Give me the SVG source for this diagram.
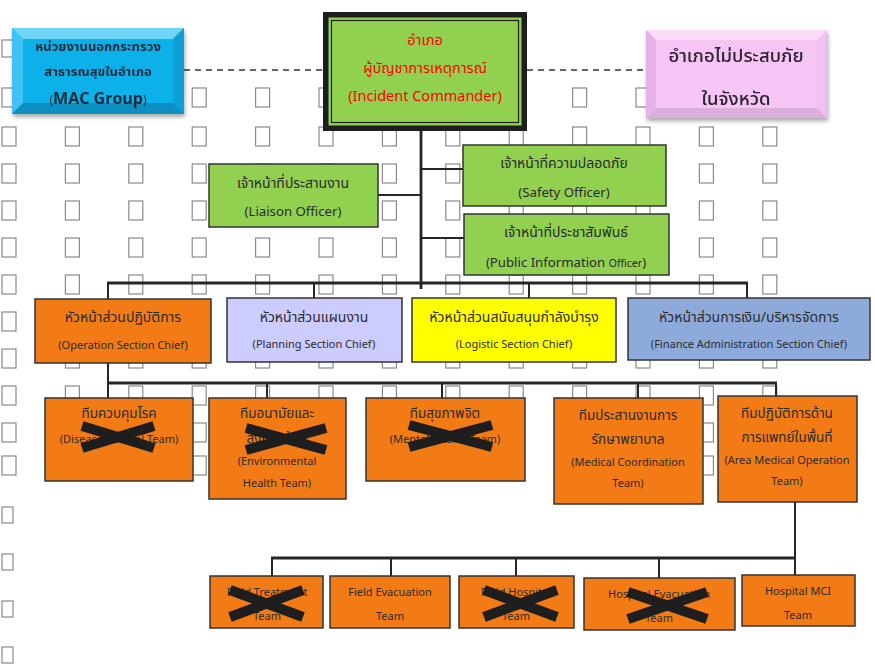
<svg xmlns="http://www.w3.org/2000/svg" xmlns:xlink="http://www.w3.org/1999/xlink" width="875" height="667" viewBox="0 0 875 667">
  <defs>
    <style>
      .sq { fill: #ffffff; stroke: #8a8a8a; stroke-width: 1.2; }
      .box { stroke: #333333; stroke-width: 1.5; }
      .green { fill: #92d050; }
      .orange { fill: #f37b16; }
      .ln { stroke: #262626; stroke-width: 2; fill: none; }
      .lnb { stroke: #262626; stroke-width: 2.8; fill: none; }
      .dash { stroke: #333333; stroke-width: 1.6; stroke-dasharray: 6 5; fill: none; }
      .x { stroke: #1e1e1e; stroke-width: 10; stroke-linecap: butt; }
      text { font-family: Tahoma, "Noto Sans Thai", "Leelawadee UI", "DejaVu Sans", sans-serif; text-anchor: middle; fill: #2b2b2b; }
      .th { font-size: 14px; }
      .tth { font-size: 13.5px; }
      .en { font-size: 13.2px; }
      .sen { font-size: 11px; }
      .ten { font-size: 11px; }
      .red { fill: #ff0000; font-size: 14.5px; }
    </style>
    <g id="row">
      <rect class="sq" x="2" y="0" width="14" height="19"/>
      <rect class="sq" x="65.4" y="0" width="14" height="19"/>
      <rect class="sq" x="128.8" y="0" width="14" height="19"/>
      <rect class="sq" x="192.2" y="0" width="14" height="19"/>
      <rect class="sq" x="255.6" y="0" width="14" height="19"/>
      <rect class="sq" x="319" y="0" width="14" height="19"/>
      <rect class="sq" x="382.4" y="0" width="14" height="19"/>
      <rect class="sq" x="445.8" y="0" width="14" height="19"/>
      <rect class="sq" x="509.2" y="0" width="14" height="19"/>
      <rect class="sq" x="572.6" y="0" width="14" height="19"/>
      <rect class="sq" x="636" y="0" width="14" height="19"/>
      <rect class="sq" x="699.4" y="0" width="14" height="19"/>
      <rect class="sq" x="762.8" y="0" width="14" height="19"/>
    </g>
    <filter id="shadow" x="-10%" y="-10%" width="125%" height="135%">
      <feGaussianBlur in="SourceAlpha" stdDeviation="2"/>
      <feOffset dx="1" dy="3" result="b"/>
      <feComponentTransfer><feFuncA type="linear" slope="0.35"/></feComponentTransfer>
      <feMerge><feMergeNode/><feMergeNode in="SourceGraphic"/></feMerge>
    </filter>
  </defs>

  <rect width="875" height="667" fill="#ffffff"/>

  <!-- background grid of placeholder boxes -->
  <g id="grid">
    <rect class="sq" x="2" y="40" width="11" height="17"/>
    <use xlink:href="#row" y="88"/>
    <use xlink:href="#row" y="127"/>
    <use xlink:href="#row" y="164"/>
    <use xlink:href="#row" y="201"/>
    <use xlink:href="#row" y="238"/>
    <use xlink:href="#row" y="275"/>
    <use xlink:href="#row" y="312"/>
    <use xlink:href="#row" y="349"/>
    <use xlink:href="#row" y="386"/>
    <use xlink:href="#row" y="423"/>
    <use xlink:href="#row" y="456"/>
    <rect class="sq" x="2" y="507" width="11" height="16"/>
    <rect class="sq" x="2" y="554" width="11" height="16"/>
    <rect class="sq" x="2" y="601" width="11" height="16"/>
    <rect class="sq" x="2" y="647" width="11" height="16"/>
  </g>

  <!-- connectors -->
  <g id="connectors">
    <line class="dash" x1="184" y1="70" x2="323" y2="70"/>
    <line class="dash" x1="527" y1="70" x2="646" y2="70"/>
    <line class="lnb" x1="421" y1="131" x2="421" y2="289"/>
    <line class="ln" x1="378" y1="195" x2="421" y2="195"/>
    <line class="ln" x1="421" y1="169" x2="463" y2="169"/>
    <line class="ln" x1="421" y1="238" x2="464" y2="238"/>
    <line class="lnb" x1="107" y1="283" x2="748" y2="283"/>
    <line class="ln" x1="108" y1="283" x2="108" y2="299"/>
    <line class="ln" x1="314" y1="283" x2="314" y2="298"/>
    <line class="ln" x1="529" y1="283" x2="529" y2="298"/>
    <line class="ln" x1="747" y1="283" x2="747" y2="298"/>
    <line class="ln" x1="108" y1="363" x2="108" y2="398"/>
    <line class="lnb" x1="107" y1="383" x2="777" y2="383"/>
    <line class="ln" x1="267" y1="383" x2="267" y2="398"/>
    <line class="ln" x1="442" y1="383" x2="442" y2="398"/>
    <line class="ln" x1="638" y1="383" x2="638" y2="398"/>
    <line class="ln" x1="776" y1="383" x2="776" y2="396"/>
    <line class="ln" x1="795" y1="502" x2="795" y2="575"/>
    <line class="lnb" x1="271" y1="558" x2="796" y2="558"/>
    <line class="ln" x1="272" y1="558" x2="272" y2="576"/>
    <line class="ln" x1="391" y1="558" x2="391" y2="576"/>
    <line class="ln" x1="516" y1="558" x2="516" y2="576"/>
    <line class="ln" x1="659" y1="558" x2="659" y2="578"/>
  </g>

  <!-- outside agencies -->
  <g id="mac-group" filter="url(#shadow)">
    <rect x="12" y="28" width="172" height="86" fill="#0fb1ea"/>
    <polygon points="12,28 184,28 173,39 23,39" fill="#6fd6f7"/>
    <polygon points="12,28 23,39 23,103 12,114" fill="#3fc3f2"/>
    <polygon points="184,28 184,114 173,103 173,39" fill="#0a9fd6"/>
    <polygon points="12,114 23,103 173,103 184,114" fill="#078fc2"/>
    <text class="th" x="98" y="51" style="font-weight:bold;fill:#1e2b3a;font-size:13px">หน่วยงานนอกกระทรวง</text>
    <text class="th" x="98" y="76" style="font-weight:bold;fill:#1e2b3a;font-size:13px">สาธารณสุขในอำเภอ</text>
    <text x="98" y="104" style="fill:#1e2b3a;font-size:12px">(<tspan style="font-size:16px;font-weight:bold;font-family:'Open Sans','Liberation Sans',sans-serif">MAC Group</tspan>)</text>
  </g>

  <g id="unaffected-district" filter="url(#shadow)">
    <rect x="646" y="30" width="181" height="88" fill="#f6c5f5"/>
    <polygon points="646,30 827,30 817,40 656,40" fill="#fadcf9"/>
    <polygon points="646,30 656,40 656,108 646,118" fill="#e7b0e6"/>
    <polygon points="827,30 827,118 817,108 817,40" fill="#f0c0ef"/>
    <polygon points="646,118 656,108 817,108 827,118" fill="#dcaedb"/>
    <text x="736" y="62" style="font-size:18.5px;font-weight:500;fill:#2a2230">อำเภอไม่ประสบภัย</text>
    <text x="736" y="105" style="font-size:18.5px;font-weight:500;fill:#2a2230">ในจังหวัด</text>
  </g>

  <!-- command -->
  <g id="incident-commander">
    <rect x="325.75" y="14.75" width="198.5" height="113.5" fill="#92d050" stroke="#1e1e1e" stroke-width="5.5"/>
    <rect x="331.5" y="20.5" width="187" height="102" fill="none" stroke="#1e1e1e" stroke-width="1.2"/>
    <text class="red" x="425" y="45">อำเภอ</text>
    <text class="red" x="425" y="73">ผู้บัญชาการเหตุการณ์</text>
    <text class="red" x="425" y="101">(Incident Commander)</text>
  </g>

  <!-- command staff -->
  <g id="liaison-officer">
    <rect class="box green" x="209" y="164" width="169" height="63"/>
    <text class="th" x="293" y="188">เจ้าหน้าที่ประสานงาน</text>
    <text class="en" x="293" y="216">(Liaison Officer)</text>
  </g>
  <g id="safety-officer">
    <rect class="box green" x="463" y="145" width="203" height="61"/>
    <text class="th" x="564" y="168">เจ้าหน้าที่ความปลอดภัย</text>
    <text class="en" x="564" y="197">(Safety Officer)</text>
  </g>
  <g id="public-information-officer">
    <rect class="box green" x="464" y="214" width="205" height="61"/>
    <text class="th" x="566" y="237">เจ้าหน้าที่ประชาสัมพันธ์</text>
    <text class="en" x="566" y="267">(Public Information <tspan style="font-size:10.5px">Officer</tspan>)</text>
  </g>

  <!-- section chiefs -->
  <g id="operation-section">
    <rect class="box orange" x="35" y="299" width="176" height="64"/>
    <text class="th" x="123" y="322">หัวหน้าส่วนปฏิบัติการ</text>
    <text class="sen" x="123" y="349">(Operation Section Chief)</text>
  </g>
  <g id="planning-section">
    <rect class="box" x="227" y="298" width="175" height="64" fill="#ccccff"/>
    <text class="th" x="314" y="322">หัวหน้าส่วนแผนงาน</text>
    <text class="sen" x="314" y="348">(Planning Section Chief)</text>
  </g>
  <g id="logistic-section">
    <rect class="box" x="412" y="298" width="204" height="64" fill="#ffff00"/>
    <text class="th" x="514" y="322">หัวหน้าส่วนสนับสนุนกำลังบำรุง</text>
    <text class="sen" x="514" y="348">(Logistic Section Chief)</text>
  </g>
  <g id="finance-section">
    <rect class="box" x="628" y="298" width="242" height="62" fill="#8eaadb"/>
    <text class="th" x="749" y="322">หัวหน้าส่วนการเงิน/บริหารจัดการ</text>
    <text class="sen" x="749" y="348">(Finance Administration Section Chief)</text>
  </g>

  <!-- operation teams -->
  <g id="disease-control-team">
    <rect class="box orange" x="45" y="398" width="148" height="83"/>
    <text class="tth" x="119" y="418">ทีมควบคุมโรค</text>
    <text class="ten" x="119" y="443">(Disease Control Team)</text>
    <line class="x" x1="82" y1="426" x2="154" y2="448"/>
    <line class="x" x1="82" y1="448" x2="154" y2="426"/>
  </g>
  <g id="environmental-health-team">
    <rect class="box orange" x="209" y="398" width="137" height="101"/>
    <text class="tth" x="277" y="418">ทีมอนามัยและ</text>
    <text class="tth" x="277" y="443">สิ่งแวดล้อม</text>
    <text class="ten" x="277" y="465">(Environmental</text>
    <text class="ten" x="277" y="487">Health Team)</text>
    <line class="x" x1="246" y1="428" x2="326" y2="450"/>
    <line class="x" x1="246" y1="450" x2="326" y2="428"/>
  </g>
  <g id="mental-health-team">
    <rect class="box orange" x="366" y="398" width="159" height="83"/>
    <text class="tth" x="445" y="418">ทีมสุขภาพจิต</text>
    <text class="ten" x="445" y="443">(Mental Health Team)</text>
    <line class="x" x1="409" y1="425" x2="492" y2="447"/>
    <line class="x" x1="409" y1="447" x2="492" y2="425"/>
  </g>
  <g id="medical-coordination-team">
    <rect class="box orange" x="554" y="398" width="149" height="106"/>
    <text class="tth" x="628" y="420">ทีมประสานงานการ</text>
    <text class="tth" x="628" y="444">รักษาพยาบาล</text>
    <text class="ten" x="628" y="466">(Medical Coordination</text>
    <text class="ten" x="628" y="487">Team)</text>
  </g>
  <g id="area-medical-operation-team">
    <rect class="box orange" x="718" y="396" width="139" height="106"/>
    <text class="tth" x="787" y="418">ทีมปฏิบัติการด้าน</text>
    <text class="tth" x="787" y="442">การแพทย์ในพื้นที่</text>
    <text class="ten" x="787" y="464">(Area Medical Operation</text>
    <text class="ten" x="787" y="485">Team)</text>
  </g>

  <!-- field teams -->
  <g id="field-treatment-team">
    <rect class="box orange" x="210" y="576" width="113" height="52"/>
    <text class="ten" x="267" y="596">Field Treatment</text>
    <text class="ten" x="267" y="620">Team</text>
    <line class="x" x1="230" y1="590" x2="303" y2="617"/>
    <line class="x" x1="230" y1="617" x2="303" y2="590"/>
  </g>
  <g id="field-evacuation-team">
    <rect class="box orange" x="330" y="576" width="120" height="52"/>
    <text class="ten" x="390" y="596">Field Evacuation</text>
    <text class="ten" x="390" y="620">Team</text>
  </g>
  <g id="field-hospital-team">
    <rect class="box orange" x="459" y="576" width="115" height="52"/>
    <text class="ten" x="516" y="596">Field Hospital</text>
    <text class="ten" x="516" y="620">Team</text>
    <line class="x" x1="484" y1="590" x2="557" y2="617"/>
    <line class="x" x1="484" y1="617" x2="557" y2="590"/>
  </g>
  <g id="hospital-evacuation-team">
    <rect class="box orange" x="584" y="578" width="151" height="52"/>
    <text class="ten" x="659" y="598">Hospital Evacuation</text>
    <text class="ten" x="659" y="622">Team</text>
    <line class="x" x1="628" y1="592" x2="707" y2="619"/>
    <line class="x" x1="628" y1="619" x2="707" y2="592"/>
  </g>
  <g id="hospital-mci-team">
    <rect class="box orange" x="742" y="575" width="113" height="51"/>
    <text class="ten" x="798" y="595">Hospital MCI</text>
    <text class="ten" x="798" y="619">Team</text>
  </g>
</svg>
